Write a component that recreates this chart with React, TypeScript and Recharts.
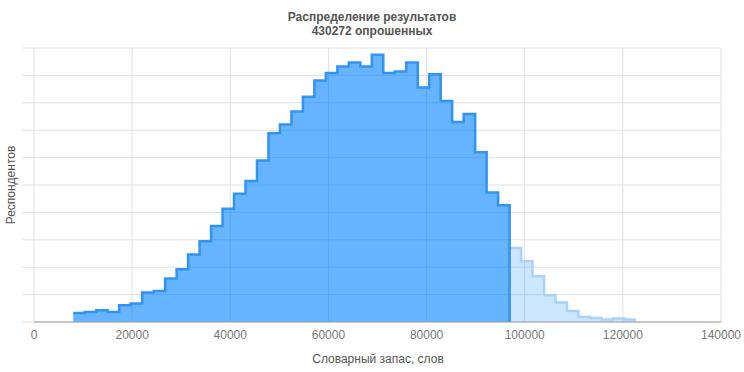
import React from 'react';
import { ComposedChart, Area, CartesianGrid, XAxis, YAxis } from 'recharts';

// bin edges (words); 49 bins + closing edge
const binEdges = [
    8000, 10340, 12680, 15020, 17360, 19700, 22040, 24380, 26720, 29060,
    31400, 33740, 36080, 38420, 40760, 43100, 45440, 47780, 50120, 52460,
    54800, 57140, 59480, 61820, 64160, 66500, 68840, 71180, 73520, 75860,
    78200, 80540, 82880, 85220, 87560, 89900, 92240, 94580, 96920, 99260,
    101600, 103940, 106280, 108620, 110960, 113300, 115640, 117980, 120320, 122660,
];

// respondents per bin, main part
const mainCounts = [
    660, 730, 860, 730, 1220, 1350, 2150, 2270, 3170, 3850,
    4930, 5900, 7000, 8260, 9360, 10290, 11790, 13780, 14420, 15360,
    16450, 17620, 18170, 18650, 18940, 18650, 19500, 18170, 18280, 18940,
    17110, 18090, 16140, 14600, 15190, 12390, 9460, 8530,
];

// respondents per bin, tail (lighter)
const tailCounts = [5410, 4440, 3340, 1950, 1420, 800, 370, 290, 180, 250, 180];

const xTicks = [0, 20000, 40000, 60000, 80000, 100000, 120000, 140000];
const yTicks = [0, 2000, 4000, 6000, 8000, 10000, 12000, 14000, 16000, 18000, 20000];

const title = 'Распределение результатов';
const subtitle = '430272 опрошенных';
const xLabel = 'Словарный запас, слов';
const yLabel = 'Респондентов';

type Row = { x: number; main?: number; tail?: number };

const rows: Row[] = [];
mainCounts.forEach((v, i) => rows.push({ x: binEdges[i], main: v }));
const mainEnd = binEdges[mainCounts.length];
rows.push({ x: mainEnd, main: mainCounts[mainCounts.length - 1] });
rows.push({ x: mainEnd, main: 0 });
tailCounts.forEach((v, i) => rows.push({ x: binEdges[mainCounts.length + i], tail: v }));
rows.push({ x: binEdges[binEdges.length - 1], tail: tailCounts[tailCounts.length - 1] });

const font = '"Liberation Sans", Arial, sans-serif';

export default function App() {
    return (
        <div style={{ position: 'absolute', left: 0, top: 0, width: 744, height: 372, fontFamily: font }}>
            <ComposedChart
                width={744}
                height={372}
                data={rows}
                margin={{ top: 48, right: 23, left: 0, bottom: 0 }}
            >
                <CartesianGrid stroke="#e0e0e0" />
                <XAxis
                    dataKey="x"
                    type="number"
                    domain={[0, 140000]}
                    ticks={xTicks}
                    height={50}
                    tickLine={false}
                    axisLine={{ stroke: '#a0a0a0' }}
                    tick={{ fill: '#777', fontSize: 12, fontFamily: font }}
                    allowDuplicatedCategory
                />
                <YAxis
                    type="number"
                    domain={[0, 20000]}
                    ticks={yTicks}
                    width={34}
                    tickFormatter={() => ''}
                    tickSize={12}
                    tickLine={{ stroke: '#e0e0e0' }}
                    axisLine={false}
                />
                <Area
                    type="stepAfter"
                    dataKey="tail"
                    stroke="#a9d2fa"
                    strokeWidth={2.5}
                    fill="#0080ff"
                    fillOpacity={0.2}
                    isAnimationActive={false}
                    dot={false}
                    activeDot={false}
                />
                <Area
                    type="stepAfter"
                    dataKey="main"
                    stroke="#3393f5"
                    strokeWidth={2.5}
                    fill="#0080ff"
                    fillOpacity={0.6}
                    isAnimationActive={false}
                    dot={false}
                    activeDot={false}
                />
            </ComposedChart>
            <svg
                width={744}
                height={372}
                style={{ position: 'absolute', left: 0, top: 0, pointerEvents: 'none' }}
            >
                <text x={372} y={21} textAnchor="middle" fontSize={12} fontWeight="bold" fill="#555" fontFamily={font}>
                    {title}
                </text>
                <text x={372} y={35} textAnchor="middle" fontSize={12} fontWeight="bold" fill="#555" fontFamily={font}>
                    {subtitle}
                </text>
                <text x={378} y={363} textAnchor="middle" fontSize={12} fill="#555" fontFamily={font}>
                    {xLabel}
                </text>
                <text
                    x={12}
                    y={185}
                    textAnchor="middle"
                    dominantBaseline="middle"
                    fontSize={12}
                    fill="#555"
                    fontFamily={font}
                    transform="rotate(-90 12 185)"
                >
                    {yLabel}
                </text>
            </svg>
        </div>
    );
}
